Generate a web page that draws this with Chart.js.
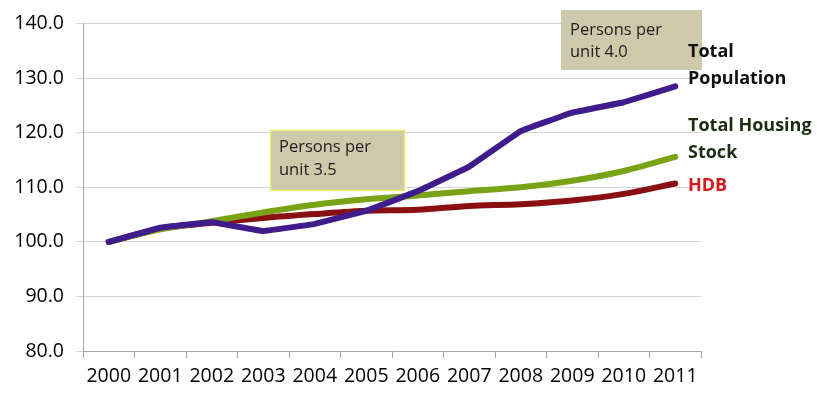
<!DOCTYPE html>
<html>
<head>
<meta charset="utf-8">
<script src="https://cdn.jsdelivr.net/npm/chart.js@4/dist/chart.umd.min.js"></script>
<style>
  html, body { margin: 0; padding: 0; background: #ffffff; }
  #wrap { width: 817px; height: 394px; position: relative; }
</style>
</head>
<body>
<div id="wrap"><canvas id="c" width="817" height="394"></canvas></div>
<script>
const years = ['2000','2001','2002','2003','2004','2005','2006','2007','2008','2009','2010','2011'];
const totalPopulation = [100.0, 102.6, 103.6, 102.0, 103.3, 105.7, 109.3, 113.8, 120.3, 123.7, 125.6, 128.5];
const totalHousingStock = [100.0, 102.3, 103.8, 105.4, 106.8, 107.8, 108.5, 109.3, 110.0, 111.2, 113.0, 115.6];
const hdb = [100.0, 102.4, 103.5, 104.4, 105.1, 105.7, 105.9, 106.6, 106.9, 107.6, 108.8, 110.7];
const yTicks = { min: 80, max: 140, step: 10 };
const seriesLabels = [['Total', 'Population'], ['Total Housing', 'Stock'], ['HDB']];
const notes = [['Persons per', 'unit 3.5'], ['Persons per', 'unit 4.0']];

const tickFont = { family: 'Open Sans', size: 19.5, weight: 500 };

const overlay = {
  id: 'overlay',
  afterDatasetsDraw(chart) {
    const ctx = chart.ctx;
    ctx.save();
    // annotation boxes
    ctx.fillStyle = '#cdc9aa';
    ctx.fillRect(270, 130, 135, 61);
    ctx.strokeStyle = '#ecec78';
    ctx.lineWidth = 1.5;
    ctx.strokeRect(270.5, 130.5, 134, 60);
    ctx.fillRect(561, 10, 141, 60);
    ctx.fillStyle = '#1e1e1e';
    ctx.font = '500 16.5px "Open Sans"';
    ctx.textBaseline = 'middle';
    ctx.textAlign = 'left';
    ctx.fillText(notes[0][0], 279, 147);
    ctx.fillText(notes[0][1], 279, 170);
    ctx.fillText(notes[1][0], 570, 30);
    ctx.fillText(notes[1][1], 570, 52);
    // series labels
    ctx.font = 'bold 18px "Open Sans"';
    ctx.fillStyle = '#111111';
    ctx.fillText(seriesLabels[0][0], 688, 52);
    ctx.fillText(seriesLabels[0][1], 688, 79);
    ctx.fillStyle = '#1c2e12';
    ctx.fillText(seriesLabels[1][0], 688, 126);
    ctx.fillText(seriesLabels[1][1], 688, 153);
    ctx.fillStyle = '#d81818';
    ctx.fillText(seriesLabels[2][0], 688, 186);
    ctx.restore();
  }
};

new Chart(document.getElementById('c'), {
  type: 'line',
  data: {
    labels: years,
    datasets: [
      { label: 'Total Population', data: totalPopulation, borderColor: '#3f1b8c', tension: 0.05 },
      { label: 'Total Housing Stock', data: totalHousingStock, borderColor: '#77a314', tension: 0.3 },
      { label: 'HDB', data: hdb, borderColor: '#8a0f12', tension: 0.3 }
    ]
  },
  options: {
    responsive: false,
    animation: false,
    events: [],
    layout: { padding: { top: 17, right: 116, left: 0, bottom: 0 } },
    elements: {
      point: { radius: 0 },
      line: { borderWidth: 6, borderCapStyle: 'round', borderJoinStyle: 'round', fill: false }
    },
    plugins: { legend: { display: false }, tooltip: { enabled: false } },
    scales: {
      x: {
        type: 'category',
        offset: true,
        grid: { display: true, drawOnChartArea: false, drawTicks: true, tickLength: 7, offset: true, color: '#a6a6a6' },
        border: { display: true, color: '#a6a6a6' },
        ticks: { color: '#000000', font: tickFont, padding: 7, maxRotation: 0, autoSkip: false },
        afterFit(s) { s.height = 43; }
      },
      y: {
        min: yTicks.min,
        max: yTicks.max,
        ticks: {
          stepSize: yTicks.step,
          color: '#000000',
          font: tickFont,
          padding: 12,
          callback: v => Number(v).toFixed(1)
        },
        grid: { color: '#d4d4d4', tickLength: 7, lineWidth: 1 },
        border: { display: true, color: '#a6a6a6' },
        afterFit(s) { s.width = 83; }
      }
    }
  },
  plugins: [overlay]
});
</script>
</body>
</html>
